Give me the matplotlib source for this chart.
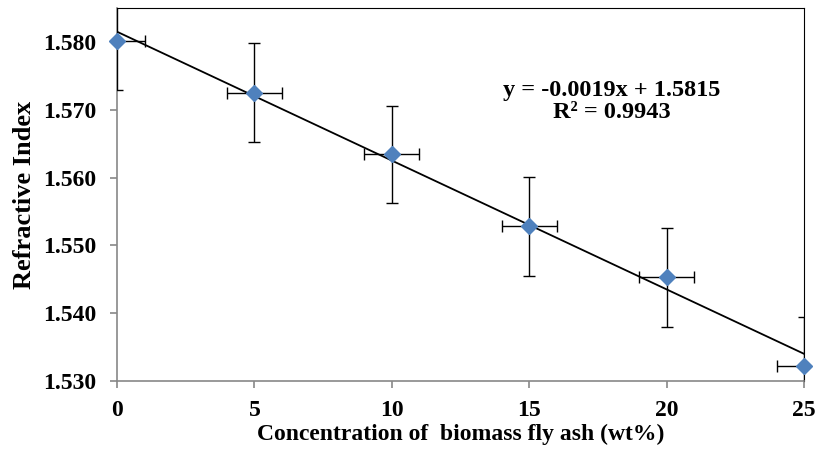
# Refractive index vs. biomass fly ash concentration, with linear trendline
import numpy as np
import matplotlib.pyplot as plt

# data
conc = np.array([0, 5, 10, 15, 20, 25])
ri = np.array([1.5802, 1.5725, 1.5634, 1.5528, 1.5453, 1.5322])
ri_err = np.array([0.0073, 0.0073, 0.0072, 0.0073, 0.0073, 0.0073])
conc_err = np.array([1, 1, 1, 1, 1, 1])

# trendline from the chart's equation
slope = -0.0019
intercept = 1.5815
r2 = 0.9943

plt.rcParams['font.family'] = ['Liberation Serif', 'DejaVu Serif']
plt.rcParams['font.weight'] = 'bold'

fig = plt.figure(figsize=(8.15, 4.59), dpi=100)
ax = fig.add_axes([0.1436, 0.170, 0.843, 0.8126])

# trendline
xfit = np.array([conc.min(), conc.max()])
ax.plot(xfit, slope * xfit + intercept, color='black', lw=1.3, zorder=2)

# error bars
ax.errorbar(conc, ri, yerr=ri_err, xerr=conc_err, fmt='none',
            ecolor='black', elinewidth=1.0, capsize=4, capthick=1.0, zorder=3)

# points
ax.plot(conc, ri, linestyle='none', marker='D', ms=8.6,
        color='#4F81BD', markeredgecolor='#4F81BD', zorder=4, clip_on=False)

ax.set_xlim(0, 25)
ax.set_ylim(1.530, 1.585)
ax.set_xticks([0, 5, 10, 15, 20, 25])
ax.set_yticks(np.arange(1.530, 1.5801, 0.010))
ax.set_yticklabels(['%.3f' % v for v in np.arange(1.530, 1.5801, 0.010)])

ax.tick_params(axis='both', direction='out', length=5, width=1.2,
               color='#888888', labelsize=17)
ax.tick_params(axis='y', pad=10)
ax.tick_params(axis='x', pad=9)
for lab in ax.get_xticklabels() + ax.get_yticklabels():
    lab.set_fontweight('bold')

ax.spines['left'].set_color('#888888')
ax.spines['bottom'].set_color('#888888')
ax.spines['left'].set_linewidth(1.2)
ax.spines['bottom'].set_linewidth(1.2)
ax.spines['top'].set_color('black')
ax.spines['right'].set_color('black')

ax.set_xlabel('Concentration of  biomass fly ash (wt%)', fontsize=17,
              fontweight='bold', labelpad=2)
ax.set_ylabel('Refractive Index', fontsize=19, fontweight='bold', labelpad=5)

ax.text(18.0, 1.5712, 'y = %.4fx + %.4f\nR² = %.4f' % (slope, intercept, r2),
        ha='center', va='center', fontsize=17.5, fontweight='bold',
        linespacing=1.1)

plt.savefig('out.png', dpi=100)
